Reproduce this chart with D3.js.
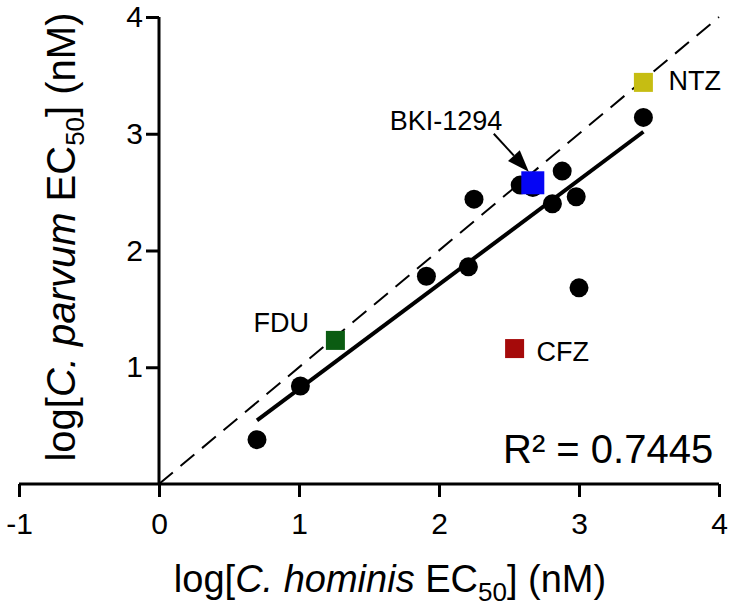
<!DOCTYPE html>
<html>
<head>
<meta charset="utf-8">
<script src="https://cdn.jsdelivr.net/npm/d3@7"></script>
<style>
  html, body { margin: 0; padding: 0; background: #fff; }
  svg { display: block; }
  text { font-family: "Liberation Sans", Arial, Helvetica, sans-serif; fill: #000; }
</style>
</head>
<body>
<svg id="chart" width="733" height="613"></svg>
<script>
// ---- data (log EC50, nM) ----
const compoundsX = [0.70, 1.01, 1.91, 2.21, 2.25, 2.58, 2.67, 2.81, 2.88, 2.98, 3.00, 3.46]; // C. hominis
const compoundsY = [0.38, 0.84, 1.78, 1.86, 2.44, 2.56, 2.54, 2.40, 2.68, 2.46, 1.68, 3.14]; // C. parvum

const namedLabels = ["NTZ", "BKI-1294", "FDU", "CFZ"];
const namedX = [3.46, 2.67, 1.26, 2.54];
const namedY = [3.44, 2.58, 1.23, 1.16];
const namedColors = ["#c6bd12", "#0505f5", "#0b5c12", "#a50a0a"];

const xTicks = [-1, 0, 1, 2, 3, 4];
const yTicks = [1, 2, 3, 4];
const fitSlope = 0.896;
const fitIntercept = -0.083;
const rSquaredText = "R\u00B2 = 0.7445";

// ---- layout ----
const svg = d3.select("#chart");
svg.append("rect").attr("width", 733).attr("height", 613).attr("fill", "#fff");

const x = d3.scaleLinear().domain([-1, 4]).range([19, 719]);
const y = d3.scaleLinear().domain([0, 4]).range([484, 17]);

// identity (dashed) line
svg.append("line")
  .attr("x1", x(0)).attr("y1", y(0))
  .attr("x2", x(4)).attr("y2", y(4))
  .attr("stroke", "#000").attr("stroke-width", 2)
  .attr("stroke-dasharray", "18,10");

// regression line
const [xmin, xmax] = d3.extent(compoundsX);
svg.append("line")
  .attr("x1", x(xmin)).attr("y1", y(fitSlope * xmin + fitIntercept))
  .attr("x2", x(xmax)).attr("y2", y(fitSlope * xmax + fitIntercept))
  .attr("stroke", "#000").attr("stroke-width", 4);

// axes
const fmt = d => String(d);
const xAxis = d3.axisBottom(x).tickValues(xTicks).tickSize(13).tickSizeOuter(0).tickPadding(16)
  .tickFormat(fmt);
const gx = svg.append("g").attr("transform", `translate(0,${y(0)})`).call(xAxis);
const yAxis = d3.axisLeft(y).tickValues(yTicks).tickSize(13).tickSizeOuter(0).tickPadding(3)
  .tickFormat(fmt);
const gy = svg.append("g").attr("transform", `translate(${x(0)},0)`).call(yAxis);
[gx, gy].forEach(g => {
  g.selectAll("path.domain").attr("stroke", "#000").attr("stroke-width", 3);
  g.selectAll(".tick line").attr("stroke", "#000").attr("stroke-width", 3);
  g.selectAll(".tick text").attr("font-size", 30)
    .attr("font-family", '"Liberation Sans", Arial, sans-serif').attr("fill", "#000");
});
gx.selectAll("path.domain").attr("d", `M${x(-1)},0H${x(4)}`);
gy.selectAll("path.domain").attr("d", `M0,${y(0)}V${y(4)}`);

// data points (circles)
svg.append("g").selectAll("circle")
  .data(compoundsX.map((v, i) => [v, compoundsY[i]]))
  .join("circle")
  .attr("cx", d => x(d[0])).attr("cy", d => y(d[1]))
  .attr("r", 9.5).attr("fill", "#000");

// named compounds (squares)
const named = namedLabels.map((n, i) => ({ name: n, x: namedX[i], y: namedY[i], color: namedColors[i] }));
const sq = n => n.name === "BKI-1294" ? 23 : 19;
svg.append("g").selectAll("rect")
  .data(named)
  .join("rect")
  .attr("x", d => x(d.x) - sq(d) / 2).attr("y", d => y(d.y) - sq(d) / 2)
  .attr("width", sq).attr("height", sq)
  .attr("fill", d => d.color);

// labels
const labelPos = {
  "NTZ": { dx: 25, dy: 8, anchor: "start" },
  "CFZ": { dx: 22, dy: 12, anchor: "start" },
  "FDU": { dx: -82, dy: -8, anchor: "start" },
  "BKI-1294": { dx: -143, dy: -53, anchor: "start" }
};
svg.append("g").selectAll("text")
  .data(named)
  .join("text")
  .attr("x", d => x(d.x) + labelPos[d.name].dx)
  .attr("y", d => y(d.y) + labelPos[d.name].dy)
  .attr("font-size", 27)
  .attr("text-anchor", d => labelPos[d.name].anchor)
  .text(d => d.name);

// arrow to BKI-1294
const bki = named.find(d => d.name === "BKI-1294");
const tip = [x(bki.x) - 4, y(bki.y) - 11];
const tail = [tip[0] - 35, tip[1] - 38];
const ang = Math.atan2(tip[1] - tail[1], tip[0] - tail[0]);
const headLen = 22, headW = 8;
const base = [tip[0] - headLen * Math.cos(ang), tip[1] - headLen * Math.sin(ang)];
svg.append("line")
  .attr("x1", tail[0]).attr("y1", tail[1]).attr("x2", base[0]).attr("y2", base[1])
  .attr("stroke", "#000").attr("stroke-width", 2);
svg.append("path")
  .attr("d", `M${tip[0]},${tip[1]}L${base[0] + headW * Math.sin(ang)},${base[1] - headW * Math.cos(ang)}L${base[0] - headW * Math.sin(ang)},${base[1] + headW * Math.cos(ang)}Z`)
  .attr("fill", "#000");

// R squared
svg.append("text").attr("x", 503).attr("y", 463).attr("font-size", 40).text(rSquaredText);

// axis titles
function title(sel, species) {
  sel.append("tspan").text("log[");
  sel.append("tspan").attr("font-style", "italic").text(species);
  sel.append("tspan").text(" EC");
  sel.append("tspan").attr("font-size", 26).attr("dy", 9).text("50");
  sel.append("tspan").attr("dy", -9).text("] (nM)");
}
const xt = svg.append("text").attr("x", 390).attr("y", 592)
  .attr("text-anchor", "middle").attr("font-size", 38);
title(xt, "C. hominis");
const yt = svg.append("text").attr("transform", "translate(75,237) rotate(-90)")
  .attr("text-anchor", "middle").attr("font-size", 40);
title(yt, "C. parvum");
</script>
</body>
</html>
